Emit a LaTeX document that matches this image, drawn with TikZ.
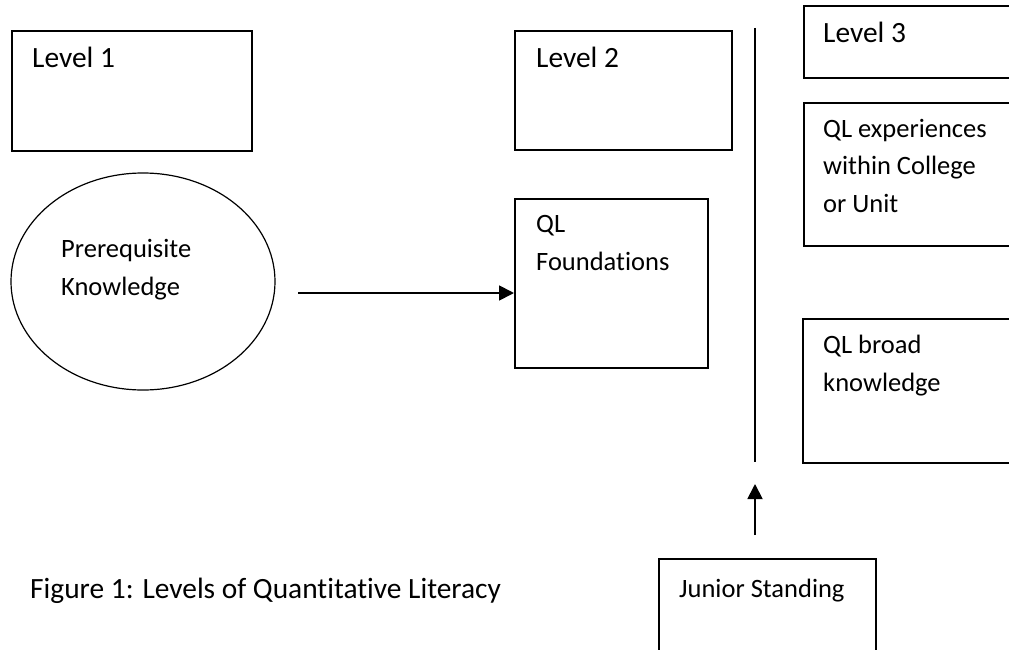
\documentclass[tikz,border=0pt]{standalone}
\usepackage{fontspec}
\setmainfont{Carlito}[Ligatures=NoCommon]
\usetikzlibrary{shapes.geometric,arrows.meta,calc}
\tikzset{
  box/.style={draw, line width=1.8pt, rectangle, anchor=north west, inner sep=0pt},
  oval/.style={draw, line width=1.2pt, ellipse, inner sep=0pt},
  lbl/.style={anchor=base west, inner sep=0pt, font=\fontsize{26.5}{37.5}\selectfont, align=left},
  big/.style={anchor=base west, inner sep=0pt, font=\fontsize{29.4}{36}\selectfont},
  conn/.style={line width=1.8pt, -{Triangle[length=15pt,width=15pt]}},
  plain/.style={line width=1.8pt}
}
\begin{document}
\begin{tikzpicture}[x=1pt,y=-1pt]
\clip (0,0) rectangle (1009,650);
\fill[white] (0,0) rectangle (1009,650);
% boxes
\node[box, minimum width=240pt, minimum height=120pt] (l1) at (11,30) {};
\node[oval, minimum width=264pt, minimum height=217pt] (pk) at (143,281.5) {};
\node[box, minimum width=217pt, minimum height=119pt] (l2) at (514,30) {};
\node[box, minimum width=193pt, minimum height=169pt] (qlf) at (514,198) {};
\node[box, minimum width=250pt, minimum height=72pt] (l3) at (803,5) {};
\node[box, minimum width=250pt, minimum height=143pt] (qle) at (803,102) {};
\node[box, minimum width=250pt, minimum height=144pt] (qlb) at (802,318) {};
\node[box, minimum width=217pt, minimum height=120pt] (js) at (658,558) {};
% texts (multi-line texts are placed at the baseline of their last line)
\node[big] (t1) at ($(l1.north west)+(21,38)$) {Level 1};
\node[big] (t2) at ($(l2.north west)+(22,38)$) {Level 2};
\node[big] (t3) at ($(l3.north west)+(20,38)$) {Level 3};
\node[lbl] (tpk) at (61,295) {Prerequisite\\Knowledge};
\node[lbl] (tqlf) at ($(qlf.north west)+(22,72)$) {QL\\Foundations};
\node[lbl] (tqle) at ($(qle.north west)+(20,110)$) {QL experiences\\within College\\or Unit};
\node[lbl] (tqlb) at ($(qlb.north west)+(21,73)$) {QL broad\\knowledge};
\node[lbl] (tjs) at ($(js.north west)+(21,39)$) {Junior Standing};
\node[big] (cap) at (30,598) {Figure 1: Levels of Quantitative Literacy};
% connectors
\coordinate (a1) at (298,293);
\draw[conn] (a1) -- (a1 -| qlf.west);
\coordinate (vt) at (755,28);
\coordinate (vb) at (755,462);
\draw[plain] (vt) -- (vb);
\coordinate (ut) at (755,535);
\coordinate (uh) at (755,484);
\draw[conn] (ut) -- (uh);
\end{tikzpicture}
\end{document}
